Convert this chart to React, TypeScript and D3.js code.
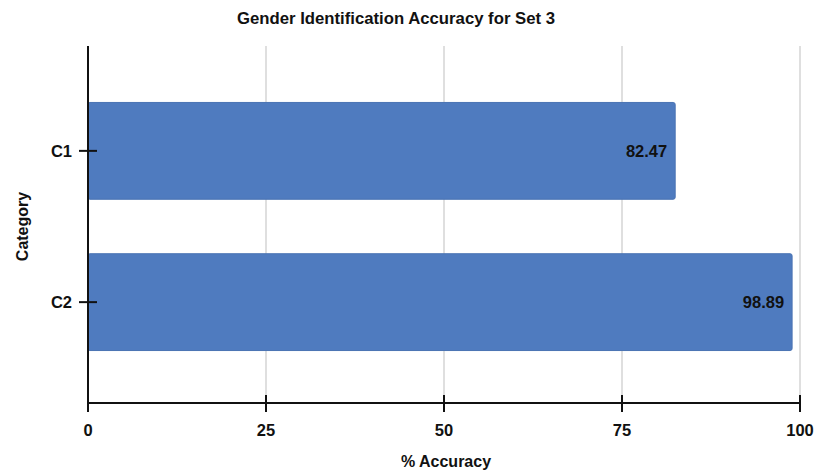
import * as d3 from 'd3';

const categories = ['C1', 'C2'];
const accuracy = [82.47, 98.89];
const xTicks = [0, 25, 50, 75, 100];

const W = 815;
const H = 470;
const BAR = '#4f7bbf';
const INK = '#111';

export default function App() {
  const left = 88;
  const right = 800;
  const top = 46;
  const bottom = 403;

  const x = d3.scaleLinear().domain([0, 100]).range([left, right]);
  // band range nudged down a little so the bars sit where the reference has them
  const y = d3
    .scaleBand<string>()
    .domain(categories)
    .range([top + 2, bottom + 2])
    .paddingInner(0.36)
    .paddingOuter(0.36);

  return (
    <svg
      width={W}
      height={H}
      viewBox={`0 0 ${W} ${H}`}
      style={{ position: 'absolute', left: 0, top: 0, background: '#fff' }}
      fontFamily="Liberation Sans, Arial, sans-serif"
    >
      <text
        x={396}
        y={24}
        textAnchor="middle"
        fontFamily="Liberation Sans Narrow, Liberation Sans, sans-serif"
        fontWeight={700}
        fontSize={16}
        textLength={318}
        lengthAdjust="spacingAndGlyphs"
        fill={INK}
      >
        Gender Identification Accuracy for Set 3
      </text>

      {/* grid */}
      {xTicks.slice(1).map((t) => (
        <line key={t} x1={x(t)} x2={x(t)} y1={top} y2={bottom} stroke="#d4d4d4" strokeWidth={1.5} />
      ))}

      {/* bars */}
      {categories.map((c, i) => {
        const by = y(c) ?? 0;
        const bh = y.bandwidth();
        const ex = x(accuracy[i]);
        return (
          <g key={c}>
            <rect
              x={left}
              y={by}
              width={ex - left}
              height={bh}
              rx={2}
              fill={BAR}
              stroke="#4a73b3"
              strokeWidth={1}
            />
            <text
              x={ex - 8}
              y={by + bh / 2}
              textAnchor="end"
              dominantBaseline="central"
              fontWeight={700}
              fontSize={16.5}
              fill={INK}
            >
              {accuracy[i].toFixed(2)}
            </text>
          </g>
        );
      })}

      {/* axes */}
      <line x1={left} x2={left} y1={top} y2={bottom} stroke={INK} strokeWidth={2} />
      <line x1={left} x2={right} y1={bottom} y2={bottom} stroke={INK} strokeWidth={2} />

      {xTicks.map((t) => (
        <g key={t}>
          <line x1={x(t)} x2={x(t)} y1={bottom - 8} y2={bottom + 9} stroke={INK} strokeWidth={2} />
          <text x={x(t)} y={430} textAnchor="middle" dominantBaseline="central" fontWeight={700} fontSize={16.5} fill={INK}>
            {t}
          </text>
        </g>
      ))}

      {categories.map((c) => {
        const cy = (y(c) ?? 0) + y.bandwidth() / 2;
        return (
          <g key={c}>
            <line x1={left - 9} x2={left + 9} y1={cy} y2={cy} stroke={INK} strokeWidth={2} />
            <text x={72} y={cy} textAnchor="end" dominantBaseline="central" fontWeight={700} fontSize={16.5} fill={INK}>
              {c}
            </text>
          </g>
        );
      })}

      <text
        transform={`translate(22,${(top + bottom) / 2 + 2}) rotate(-90)`}
        textAnchor="middle"
        dominantBaseline="central"
        fontWeight={700}
        fontSize={16}
        fill={INK}
      >
        Category
      </text>
      <text x={446} y={461} textAnchor="middle" dominantBaseline="central" fontWeight={700} fontSize={16} fill={INK}>
        % Accuracy
      </text>
    </svg>
  );
}
